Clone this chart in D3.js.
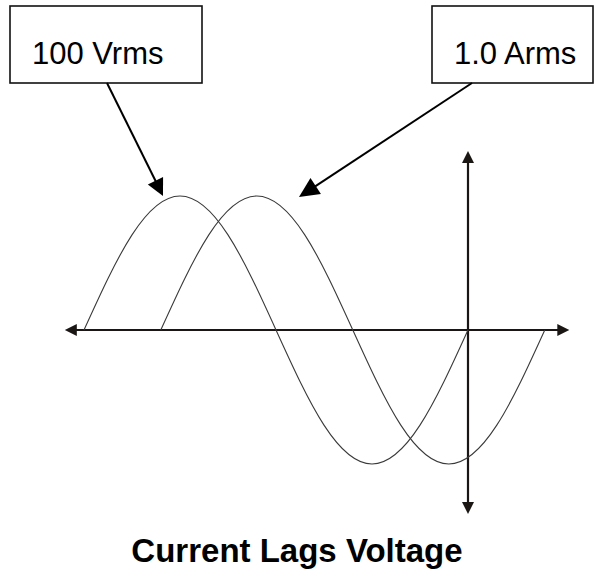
<!DOCTYPE html>
<html><head><meta charset="utf-8">
<script src="https://cdn.jsdelivr.net/npm/d3@7"></script>
<style>html,body{margin:0;padding:0;background:#fff;}svg{display:block;}</style>
</head><body>
<script>
// Phase angles (degrees) and normalized amplitudes
const phaseDeg = [0, 45, 90, 135, 180, 225, 270, 315, 360];
const voltage = [0, 0.71, 1, 0.71, 0, -0.71, -1, -0.71, 0];
const current = [0, 0.71, 1, 0.71, 0, -0.71, -1, -0.71, 0];
const currentLagDeg = 72;
const labels = ["100 Vrms", "1.0 Arms"];
const title = "Current Lags Voltage";

const W = 596, H = 578;
const svg = d3.select("body").append("svg").attr("width", W).attr("height", H);

const x = d3.scaleLinear().domain([0, 360]).range([84, 468]);
const y = d3.scaleLinear().domain([-1, 1]).range([464, 196]);

const axisColor = "#1a1613";
function arrowHead(tipX, tipY, fromX, fromY, len, halfW, color) {
  const dx = tipX - fromX, dy = tipY - fromY, d = Math.hypot(dx, dy);
  const ux = dx / d, uy = dy / d;
  const bx = tipX - ux * len, by = tipY - uy * len;
  const px = -uy * halfW, py = ux * halfW;
  svg.append("polygon")
    .attr("points", `${tipX},${tipY} ${bx + px},${by + py} ${bx - px},${by - py}`)
    .attr("fill", color);
}

// Horizontal axis
const hx0 = x(-18), hx1 = x(455), hy = y(0);
svg.append("line").attr("x1", hx0 + 10).attr("x2", hx1 - 10).attr("y1", hy).attr("y2", hy)
  .attr("stroke", axisColor).attr("stroke-width", 2.2);
arrowHead(hx0, hy, hx1, hy, 12, 6, axisColor);
arrowHead(hx1, hy, hx0, hy, 12, 6, axisColor);

// Vertical axis
const vx = x(360), vy0 = y(1.336), vy1 = y(-1.373);
svg.append("line").attr("x1", vx).attr("x2", vx).attr("y1", vy0 + 10).attr("y2", vy1 - 10)
  .attr("stroke", axisColor).attr("stroke-width", 2.2);
arrowHead(vx, vy0, vx, vy1, 12, 6, axisColor);
arrowHead(vx, vy1, vx, vy0, 12, 6, axisColor);

// Waves
const line = d3.line().x(d => x(d[0])).y(d => y(d[1])).curve(d3.curveNatural);
const vPts = phaseDeg.map((p, i) => [p, voltage[i]]);
const iPts = phaseDeg.map((p, i) => [p + currentLagDeg, current[i]]);
[vPts, iPts].forEach(pts => {
  svg.append("path").attr("d", line(pts)).attr("fill", "none")
    .attr("stroke", "#3a3a3a").attr("stroke-width", 1.1);
});

// Label boxes
const boxes = [
  {x: 10, y: 6, w: 192, h: 77, tx: 32, label: labels[0], from: [107, 83], to: [163, 196], len: 17, hw: 8.5},
  {x: 432, y: 6, w: 161, h: 77, tx: 454, label: labels[1], from: [472, 83], to: [299, 197], len: 20, hw: 9.5}
];
boxes.forEach(b => {
  svg.append("rect").attr("x", b.x).attr("y", b.y).attr("width", b.w).attr("height", b.h)
    .attr("fill", "#fff").attr("stroke", "#111").attr("stroke-width", 1.6);
  svg.append("text").attr("x", b.tx).attr("y", 64).text(b.label)
    .attr("font-family", "Liberation Sans, Arial, sans-serif").attr("font-size", 31).attr("fill", "#000");
  const dx = b.to[0] - b.from[0], dy = b.to[1] - b.from[1], d = Math.hypot(dx, dy);
  svg.append("line").attr("x1", b.from[0]).attr("y1", b.from[1])
    .attr("x2", b.to[0] - dx / d * (b.len - 2)).attr("y2", b.to[1] - dy / d * (b.len - 2))
    .attr("stroke", "#000").attr("stroke-width", 2);
  arrowHead(b.to[0], b.to[1], b.from[0], b.from[1], b.len, b.hw, "#000");
});

// Title
svg.append("text").attr("x", 297).attr("y", 562).attr("text-anchor", "middle")
  .attr("font-family", "Liberation Sans, Arial, sans-serif").attr("font-weight", "bold")
  .attr("font-size", 33).attr("fill", "#000").text(title);
</script>
</body></html>
